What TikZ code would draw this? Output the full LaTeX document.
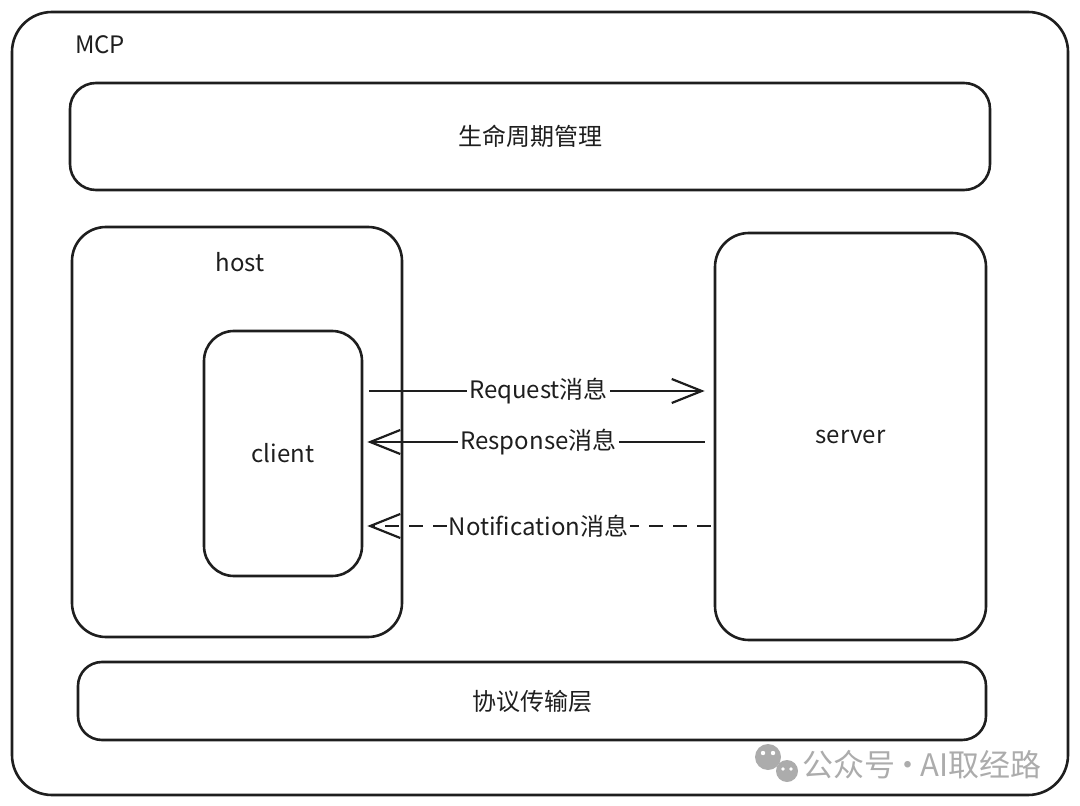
\documentclass[tikz,border=0pt]{standalone}
\usepackage{fontspec}
\setmainfont{Noto Sans CJK SC}
\usetikzlibrary{arrows.meta,positioning,calc}
\definecolor{inkblack}{RGB}{30,30,30}
\definecolor{markgray}{RGB}{172,172,172}

\tikzset{
  panel/.style={draw=inkblack,line width=1.3pt,rounded corners=#1,inner sep=0pt},
  panel/.default=14pt,
  boxtext/.style={font=\fontsize{12}{14}\selectfont,text=inkblack},
  msg/.style={draw=inkblack,line width=1.2pt,-{Straight Barb[length=15pt,width=12pt,line width=1.1pt]}},
  msglabel/.style={boxtext,fill=white,inner sep=1pt},
}

\begin{document}
\begin{tikzpicture}[x=0.5pt,y=-0.5pt]
  \useasboundingbox (0,0) rectangle (1080,806);

  % Frames
  \node[panel=20pt,minimum width=528pt,minimum height=391.5pt] (mcp) at (540,403.5) {};
  \node[boxtext,anchor=west] (mcplabel) at (68,45) {MCP};

  \node[panel=13pt,minimum width=460pt,minimum height=53.5pt,boxtext] (life) at (530,136.5) {生命周期管理};

  \node[panel=17pt,minimum width=165pt,minimum height=205pt] (host) at (237,432) {};
  \node[boxtext] (hostlabel) at (240,262) {host};

  \node[panel=15pt,minimum width=79pt,minimum height=122.5pt,boxtext] (client) at (283,453.5) {client};

  \node[panel=17pt,minimum width=135.5pt,minimum height=203.5pt,boxtext] (server) at (850.5,436.5) {server};

  \node[panel=12pt,minimum width=454pt,minimum height=39pt,boxtext] (transport) at (532,701) {协议传输层};

  % Messages
  \draw[msg,shorten <=6pt/2,shorten >=9pt/2] (client.east |- 0,391) -- (server.west |- 0,391)
    node[msglabel,midway] (req) {Request消息};
  \draw[msg,shorten <=9pt/2,shorten >=4pt/2] (server.west |- 0,442) -- (client.east |- 0,442)
    node[msglabel,midway] (resp) {Response消息};
  \draw[msg,dashed,dash pattern=on 7pt off 5pt,shorten <=3pt/2,shorten >=4pt/2] (server.west |- 0,526) -- (client.east |- 0,526)
    node[msglabel,midway] (note) {Notification消息};

  % Watermark
  \fill[markgray] (768,757) circle (13);
  \fill[markgray] (787,771) circle (11);
  \fill[white] (763,753) circle (2.2) (773,753) circle (2.2)
    (783,769) circle (1.8) (791,769) circle (1.8);
  \node[anchor=west,text=markgray,font=\fontsize{15.5}{17}\selectfont,inner sep=0pt] (mark) at (802,765) {公众号\hspace{-1.5pt}·\hspace{-1.5pt}AI取经路};
\end{tikzpicture}
\end{document}
